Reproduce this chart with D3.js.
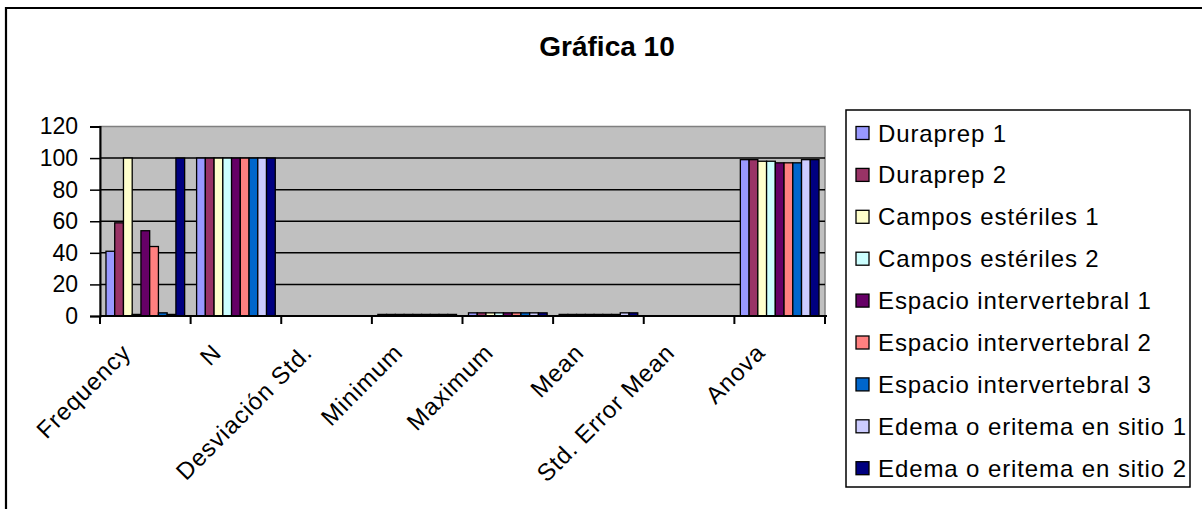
<!DOCTYPE html>
<html><head><meta charset="utf-8">
<script src="https://cdn.jsdelivr.net/npm/d3@7"></script>
<style>body{margin:0;background:#fff}svg{display:block}text{font-family:Arial,"Liberation Sans",sans-serif}</style>
</head><body>
<script>
const categories = ["Frequency","N","Desviación Std.","Minimum","Maximum","Mean","Std. Error Mean","Anova"];
const seriesNames = ["Duraprep 1","Duraprep 2","Campos estériles 1","Campos estériles 2","Espacio intervertebral 1","Espacio intervertebral 2","Espacio intervertebral 3","Edema o eritema en sitio 1","Edema o eritema en sitio 2"];
const seriesColors = ["#9999FF","#993366","#FFFFCC","#CCFFFF","#660066","#FF8080","#0066CC","#CCCCFF","#000080"];
// values per series, in category order
const duraprep1 = [41, 100, 0, 1, 2, 1, 0, 99];
const duraprep2 = [59, 100, 0, 1, 2, 1, 0, 99];
const campos1   = [100, 100, 0, 1, 2, 1, 0, 98];
const campos2   = [1, 100, 0, 1, 2, 1, 0, 98];
const espacio1  = [54, 100, 0, 1, 2, 1, 0, 97];
const espacio2  = [44, 100, 0, 1, 2, 1, 0, 97];
const espacio3  = [2, 100, 0, 1, 2, 1, 0, 97];
const edema1    = [1, 100, 0, 1, 2, 2, 0, 99];
const edema2    = [100, 100, 0, 1, 2, 2, 0, 99];
const yTicks = [0, 20, 40, 60, 80, 100, 120];
const title = "Gráfica 10";

const seriesValues = [duraprep1,duraprep2,campos1,campos2,espacio1,espacio2,espacio3,edema1,edema2];

const W = 1202, H = 509;
const svg = d3.select("body").append("svg").attr("width", W).attr("height", H);

// outer chart border
svg.append("path").attr("d", `M6,${H+5} V8 H${W+5}`).attr("fill","none").attr("stroke","#000").attr("stroke-width",2.2);

svg.append("text").attr("x", 607).attr("y", 56).attr("text-anchor","middle")
  .attr("font-size", 28).attr("font-weight","bold").text(title);

const pl = 100, pr = 825, pt = 126.5, pb = 316;
const x0 = d3.scaleBand().domain(categories).range([pl, pr]).padding(0);
const bw = x0.bandwidth();
const x1 = d3.scaleBand().domain(seriesNames).range([bw*0.066, bw*0.934]).padding(0);
const y = d3.scaleLinear().domain([0, 120]).range([pb, pt]);

// plot background
svg.append("rect").attr("x", pl).attr("y", pt).attr("width", pr-pl).attr("height", pb-pt)
  .attr("fill","#C0C0C0").attr("stroke","#808080").attr("stroke-width",1.5);

// gridlines
svg.append("g").selectAll("line").data(yTicks.filter(t => t > 0 && t < 120)).join("line")
  .attr("x1", pl).attr("x2", pr).attr("y1", d => y(d)).attr("y2", d => y(d))
  .attr("stroke","#000").attr("stroke-width",1.5);

// bars
const groups = svg.append("g").selectAll("g").data(categories).join("g")
  .attr("transform", c => `translate(${x0(c)},0)`);
groups.selectAll("rect").data((c, ci) => seriesNames.map((s, si) => ({s, si, v: seriesValues[si][ci]})).filter(d => d.v > 0))
  .join("rect")
  .attr("x", d => x1(d.s)).attr("width", x1.bandwidth())
  .attr("y", d => y(d.v)).attr("height", d => y(0) - y(d.v))
  .attr("fill", d => seriesColors[d.si]).attr("stroke","#000").attr("stroke-width",1.3);

// y axis
const yAxis = d3.axisLeft(y).tickValues(yTicks).tickSize(10).tickPadding(12);
const gy = svg.append("g").attr("transform", `translate(${pl},0)`).call(yAxis);
gy.select(".domain").attr("stroke","#000").attr("stroke-width",2);
gy.selectAll(".tick line").attr("stroke","#000").attr("stroke-width",1.5);
gy.selectAll(".tick text").attr("font-size", 23).attr("fill","#000").attr("font-family","Arial, 'Liberation Sans', sans-serif");

// x axis
svg.append("line").attr("x1", pl).attr("x2", pr+2).attr("y1", pb).attr("y2", pb).attr("stroke","#000").attr("stroke-width",2);
svg.append("g").selectAll("line").data(categories.map(c => x0(c)).concat([pr])).join("line")
  .attr("x1", d => d).attr("x2", d => d).attr("y1", pb).attr("y2", pb+8).attr("stroke","#000").attr("stroke-width",2);
svg.append("g").selectAll("text").data(categories).join("text")
  .attr("transform", c => `translate(${x0(c) + bw/2 - 13},${pb+38}) rotate(-45)`)
  .attr("text-anchor","end").attr("font-size", 24).attr("letter-spacing", 0.9).text(c => c);

// legend
const lx = 846, ly = 110, lw = 344, lh = 377;
svg.append("rect").attr("x", lx).attr("y", ly).attr("width", lw).attr("height", lh)
  .attr("fill","#fff").attr("stroke","#000").attr("stroke-width",1.5);
const li = svg.append("g").selectAll("g").data(seriesNames).join("g")
  .attr("transform", (d, i) => `translate(${lx+10},${133 + i*41.9})`);
li.append("rect").attr("x", 0).attr("y", -6.5).attr("width", 13).attr("height", 13)
  .attr("fill", (d, i) => seriesColors[i]).attr("stroke","#000").attr("stroke-width",1.3);
li.append("text").attr("x", 22).attr("y", 8.5).attr("font-size", 24).attr("letter-spacing", 0.9).text(d => d);
</script>
</body></html>
